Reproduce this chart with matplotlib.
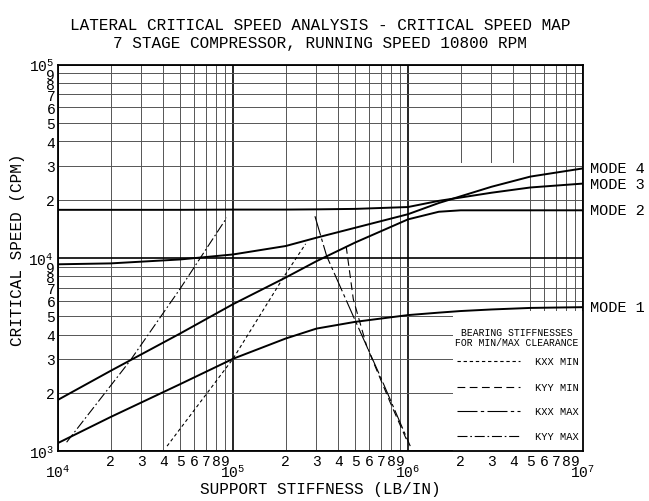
""" Critical speed map: rotor lateral modes vs support stiffness,
with the bearing stiffness curves for min/max clearance. """

import math
import matplotlib.pyplot as plt
from matplotlib.patches import Rectangle
from matplotlib.ticker import FixedLocator, FuncFormatter

plt.rcParams["font.family"] = ["Liberation Mono", "DejaVu Sans"]
plt.rcParams["mathtext.fontset"] = "custom"
plt.rcParams["mathtext.rm"] = "Liberation Mono"

# Support stiffness (lb/in) where the modes were evaluated
stiffness = [1e4, 2e4, 5e4, 1e5, 2e5, 3e5, 5e5, 1e6, 1.5e6, 2e6, 3e6, 5e6, 1e7]

# Critical speeds (cpm) of each mode
mode_1 = [1.1e3, 1.5e3, 2.22e3, 3.0e3, 3.82e3, 4.3e3, 4.66e3, 5.05e3, 5.2e3, 5.3e3, 5.4e3, 5.5e3, 5.55e3]
mode_2 = [1.84e3, 2.6e3, 4.06e3, 5.75e3, 7.9e3, 9.6e3, 1.2e4, 1.58e4, 1.73e4, 1.76e4, 1.76e4, 1.76e4, 1.76e4]
mode_3 = [1.77e4, 1.77e4, 1.77e4, 1.775e4, 1.775e4, 1.78e4, 1.79e4, 1.83e4, 1.97e4, 2.05e4, 2.17e4, 2.31e4, 2.42e4]
mode_4 = [9.25e3, 9.35e3, 9.8e3, 1.04e4, 1.15e4, 1.27e4, 1.43e4, 1.68e4, 1.92e4, 2.08e4, 2.33e4, 2.63e4, 2.9e4]
mode_names = ["MODE 1", "MODE 2", "MODE 3", "MODE 4"]

# Bearing stiffness curves (stiffness, speed)
kxx_min_k = [4.2e4, 1e5, 1.94e5, 2.6e5]
kxx_min_n = [1.06e3, 3.0e3, 7.9e3, 1.18e4]
kyy_min_k = [4.43e5, 4.87e5, 5.8e5, 7.9e5, 1.0e6]
kyy_min_n = [1.15e4, 6.1e3, 3.5e3, 1.79e3, 1.1e3]
kxx_max_k = [2.94e5, 3.43e5, 4.86e5, 6.92e5, 1.03e6]
kxx_max_n = [1.64e4, 1.02e4, 5.0e3, 2.45e3, 1.06e3]
kyy_max_k = [1.12e4, 2.58e4, 4.98e4, 9.2e4]
kyy_max_n = [1.11e3, 2.93e3, 6.9e3, 1.61e4]

bearing_labels = ["KXX MIN", "KYY MIN", "KXX MAX", "KYY MAX"]
bearing_styles = [(0, (3, 2.5)), (0, (7, 4)), (0, (18, 3, 3, 3)), (0, (9, 2.5, 1.5, 2.5))]

fig = plt.figure(figsize=(6.49, 5.02), dpi=100)
ax = fig.add_axes([58 / 649, 50 / 502, 525 / 649, 386.5 / 502])
ax.set_xscale("log")
ax.set_yscale("log")
ax.set_xlim(1e4, 1e7)
ax.set_ylim(1e3, 1e5)

# Ticks: decades as 10^n, sub-decades as single digits
decades_x = [1e4, 1e5, 1e6, 1e7]
decades_y = [1e3, 1e4, 1e5]
subs = [2, 3, 4, 5, 6, 7, 8, 9]
minor_x = [m * d for d in decades_x[:-1] for m in subs]
minor_y = [m * d for d in decades_y[:-1] for m in subs]


def decade_label(v, pos):
    return r"$\mathregular{10^{%d}}$" % round(math.log10(v))


def sub_label(v, pos):
    return "%d" % round(v / 10 ** math.floor(math.log10(v) + 1e-9))


ax.xaxis.set_major_locator(FixedLocator(decades_x))
ax.xaxis.set_minor_locator(FixedLocator(minor_x))
ax.yaxis.set_major_locator(FixedLocator(decades_y))
ax.yaxis.set_minor_locator(FixedLocator(minor_y))
for axis in (ax.xaxis, ax.yaxis):
    axis.set_major_formatter(FuncFormatter(decade_label))
    axis.set_minor_formatter(FuncFormatter(sub_label))

ax.tick_params(which="both", length=0, labelsize=10.5)
ax.tick_params(axis="x", which="minor", pad=2)
ax.tick_params(axis="x", which="major", pad=9)
ax.tick_params(axis="y", which="major", pad=3)
ax.tick_params(axis="y", which="minor", pad=2)

# Grid
ax.set_axisbelow(True)
ax.grid(which="major", color="black", lw=1.2)
ax.grid(which="minor", axis="y", color="#555555", lw=0.7)
short_lines = [2e6, 3e6, 4e6]
for xv in minor_x:
    low = 0.748 if xv in short_lines else 0.0
    ax.axvline(xv, ymin=low, ymax=1, color="#555555", lw=0.7, zorder=0.5)

for s in ax.spines.values():
    s.set_linewidth(1.3)

# Mode curves
for vals, name in zip([mode_1, mode_2, mode_3, mode_4], mode_names):
    ax.plot(stiffness, vals, color="black", lw=1.4, zorder=3)
    ax.annotate(name, xy=(1.0, vals[-1]), xycoords=("axes fraction", "data"),
                xytext=(5, 0), textcoords="offset points", va="center", ha="left",
                fontsize=11, annotation_clip=False)

# Bearing stiffness curves
bearing = [(kxx_min_k, kxx_min_n), (kyy_min_k, kyy_min_n),
           (kxx_max_k, kxx_max_n), (kyy_max_k, kyy_max_n)]
for (k, n), ls in zip(bearing, bearing_styles):
    ax.plot(k, n, color="black", lw=0.8, linestyle=ls, zorder=2.5)

# Key box in the lower right corner
ax.add_patch(Rectangle((0.7524, 0.0), 0.2476, 0.3623, transform=ax.transAxes,
                       facecolor="white", edgecolor="none", zorder=1))
ax.text(0.8737, 0.3087, "BEARING STIFFNESSES", transform=ax.transAxes,
        ha="center", va="center", fontsize=7, zorder=4)
ax.text(0.8737, 0.2812, "FOR MIN/MAX CLEARANCE", transform=ax.transAxes,
        ha="center", va="center", fontsize=7, zorder=4)
for fy, ls, lab in zip([0.2336, 0.1648, 0.1043, 0.0396], bearing_styles, bearing_labels):
    ax.plot([0.7594, 0.88], [fy, fy], transform=ax.transAxes, color="black",
            lw=0.8, linestyle=ls, zorder=4)
    ax.text(0.9505, fy, lab, transform=ax.transAxes, ha="center", va="center",
            fontsize=7.5, zorder=4)

ax.set_xlabel("SUPPORT STIFFNESS (LB/IN)", fontsize=11.5, va="center")
ax.xaxis.set_label_coords(0.5, -0.098)
ax.set_ylabel("CRITICAL SPEED (CPM)", fontsize=11.5, va="center")
ax.yaxis.set_label_coords(-0.078, 0.523)

fig.text(320 / 649, 1 - 34.5 / 502,
         "LATERAL CRITICAL SPEED ANALYSIS - CRITICAL SPEED MAP\n"
         "7 STAGE COMPRESSOR, RUNNING SPEED 10800 RPM",
         ha="center", va="center", fontsize=11.5, linespacing=1.3)

fig.savefig("out.png", dpi=100)
